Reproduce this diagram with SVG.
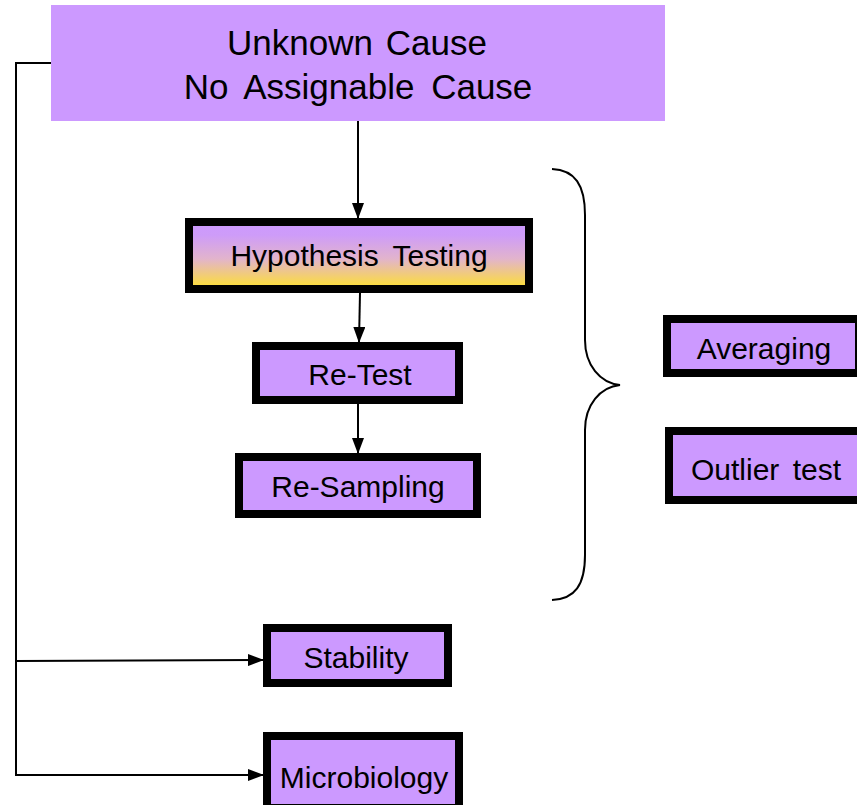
<svg xmlns="http://www.w3.org/2000/svg" width="857" height="805" viewBox="0 0 857 805">
<style>
.box{fill:#CC99FF;stroke:#000;stroke-width:8}
.t{font-family:"Liberation Sans",Arial,sans-serif;font-size:30px;fill:#000;text-anchor:middle}
.c{fill:none;stroke:#000;stroke-width:2}
</style>
<defs>
<linearGradient id="g" x1="0" y1="0" x2="0" y2="1">
<stop offset="0" stop-color="#CC99FF"/>
<stop offset="0.2" stop-color="#CE9CF8"/>
<stop offset="0.55" stop-color="#E2B4CC"/>
<stop offset="1" stop-color="#FFE22E"/>
</linearGradient>
<marker id="a" markerWidth="16" markerHeight="12" refX="15" refY="6" orient="auto" markerUnits="userSpaceOnUse">
<path d="M0,0 L16,6 L0,12 Z" fill="#000"/>
</marker>
</defs>
<rect width="857" height="805" fill="#fff"/>
<g id="connectors">
<line class="c" x1="358" y1="121" x2="358" y2="218" marker-end="url(#a)"/>
<line class="c" x1="360" y1="293" x2="359" y2="342" marker-end="url(#a)"/>
<line class="c" x1="358" y1="404" x2="358" y2="453" marker-end="url(#a)"/>
<polyline class="c" points="51,63 16,63 16,775 263,775" marker-end="url(#a)"/>
<line class="c" x1="16" y1="661" x2="263" y2="660" marker-end="url(#a)"/>
</g>
<g id="brace">
<path class="c" d="M552,169 C575,170 585,185 585,215 L585,340 C585,365 600,383 620,385 C600,387 585,405 585,430 L585,555 C585,585 575,599 552,600"/>
</g>
<g id="unknown">
<rect x="51" y="5" width="614" height="116" fill="#CC99FF"/>
<text class="t" x="357" y="55" style="font-size:35px;word-spacing:3px">Unknown Cause</text>
<text class="t" x="358" y="99" style="font-size:35px;word-spacing:7px">No Assignable Cause</text>
</g>
<g id="hypothesis">
<rect x="189" y="222" width="340" height="67" fill="url(#g)" stroke="#000" stroke-width="8"/>
<text class="t" x="359" y="266" style="word-spacing:6px">Hypothesis Testing</text>
</g>
<g id="retest">
<rect class="box" x="256" y="346" width="203" height="54"/>
<text class="t" x="360" y="385">Re-Test</text>
</g>
<g id="resampling">
<rect class="box" x="239" y="457" width="238" height="57"/>
<text class="t" x="358" y="497">Re-Sampling</text>
</g>
<g id="averaging">
<rect class="box" x="667" y="319" width="192" height="54"/>
<text class="t" x="764" y="359">Averaging</text>
</g>
<g id="outlier">
<rect class="box" x="669" y="431" width="192" height="69"/>
<text class="t" x="766" y="480" style="word-spacing:5px">Outlier test</text>
</g>
<g id="stability">
<rect class="box" x="267" y="628" width="181" height="55"/>
<text class="t" x="356" y="668">Stability</text>
</g>
<g id="microbiology">
<rect class="box" x="267" y="736" width="192" height="72"/>
<text class="t" x="364" y="788">Microbiology</text>
</g>
</svg>
